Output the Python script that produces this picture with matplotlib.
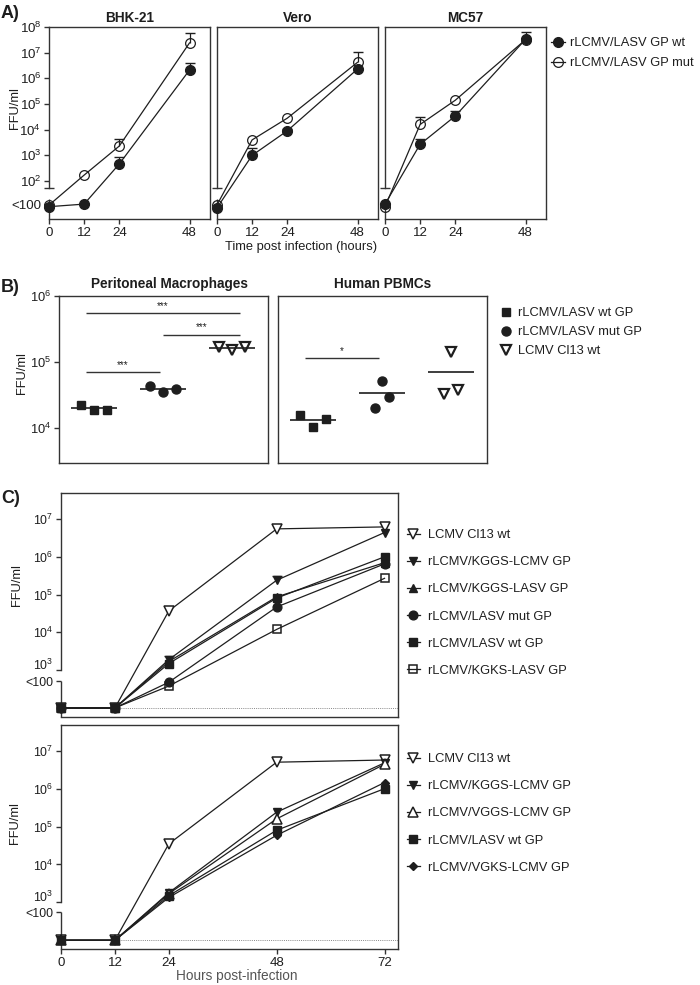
import numpy as np
import matplotlib
matplotlib.use('Agg')
import matplotlib.pyplot as plt
from matplotlib.lines import Line2D

plt.rcParams['font.family'] = ['Liberation Sans', 'DejaVu Sans']
plt.rcParams['mathtext.fontset'] = 'custom'
plt.rcParams['mathtext.rm'] = 'Liberation Sans'
plt.rcParams['mathtext.it'] = 'Liberation Sans:italic'
plt.rcParams['mathtext.bf'] = 'Liberation Sans:bold'

nan = np.nan
INK = '#1e1e1e'
SPINE = '#333333'
FS = 9.3

# ---------------- Panel A data ----------------
hours_A = [0, 12, 24, 48]
cells_A = ['BHK-21', 'Vero', 'MC57']
labels_A = ['rLCMV/LASV GP wt', 'rLCMV/LASV GP mut']
bhk_wt = [10, 12.6, 460, 2.1e6]
bhk_mut = [11.5, 170, 2300, 2.4e7]
vero_wt = [9, 1000, 9000, 2.3e6]
vero_mut = [11.7, 4000, 2.8e4, 4.2e6]
mc57_wt = [12.6, 2700, 3.4e4, 3.3e7]
mc57_mut = [10, 1.6e4, 1.4e5, 3.2e7]
# upper ends of the error bars (nan = none visible)
bhk_wt_hi = [nan, nan, 870, 4.0e6]
bhk_mut_hi = [nan, nan, 4400, 5.9e7]
vero_wt_hi = [nan, 1900, 1.1e4, nan]
vero_mut_hi = [nan, nan, nan, 1.1e7]
mc57_wt_hi = [nan, 4400, 5.4e4, 6.3e7]
mc57_mut_hi = [nan, 3.1e4, nan, nan]

# ---------------- Panel B data ----------------
groups_B = ['rLCMV/LASV wt GP', 'rLCMV/LASV mut GP', 'LCMV Cl13 wt']
titles_B = ['Peritoneal Macrophages', 'Human PBMCs']
mac_wt = [2.2e4, 1.87e4, 1.87e4]
mac_mut = [4.4e4, 3.5e4, 3.9e4]
mac_cl13 = [1.7e5, 1.5e5, 1.7e5]
pbmc_wt = [1.58e4, 1.05e4, 1.38e4]
pbmc_mut = [2.0e4, 5.2e4, 2.95e4]
pbmc_cl13 = [3.3e4, 1.4e5, 3.8e4]
sig_mac = [(1, 3, 5.5e5, '***'), (2, 3, 2.6e5, '***'), (1, 2, 7.0e4, '***')]
sig_pbmc = [(1, 2, 1.15e5, '*')]

# ---------------- Panel C data ----------------
hours_C = [0, 12, 24, 48, 72]
labels_C1 = ['LCMV Cl13 wt', 'rLCMV/KGGS-LCMV GP', 'rLCMV/KGGS-LASV GP',
             'rLCMV/LASV mut GP', 'rLCMV/LASV wt GP', 'rLCMV/KGKS-LASV GP']
c1_cl13 = [100, 100, 3.7e4, 5.5e6, 6.2e6]
c1_kggs_lcmv = [100, 100, 1.9e3, 2.4e5, 4.4e6]
c1_kggs_lasv = [100, 100, 1.7e3, 8.7e4, 7.0e5]
c1_lasv_mut = [100, 100, 480, 4.7e4, 6.5e5]
c1_lasv_wt = [100, 100, 1.5e3, 8.1e4, 1.0e6]
c1_kgks_lasv = [100, 100, 380, 1.2e4, 2.7e5]
c1_kggs_lcmv_hi = [nan, nan, 2.4e3, 3.2e5, nan]

labels_C2 = ['LCMV Cl13 wt', 'rLCMV/KGGS-LCMV GP', 'rLCMV/VGGS-LCMV GP',
             'rLCMV/LASV wt GP', 'rLCMV/VGKS-LCMV GP']
c2_cl13 = [100, 100, 3.5e4, 5.0e6, 5.7e6]
c2_kggs_lcmv = [100, 100, 1.8e3, 2.4e5, 4.8e6]
c2_vggs_lcmv = [100, 100, 1.7e3, 1.6e5, 4.4e6]
c2_lasv_wt = [100, 100, 1.5e3, 8.0e4, 1.0e6]
c2_vgks_lcmv = [100, 100, 1.35e3, 5.9e4, 1.45e6]

W, H = 700, 985
fig = plt.figure(figsize=(W / 100, H / 100), dpi=100)


def axbox(l, r, t, b):
    return fig.add_axes([l / W, 1 - b / H, (r - l) / W, (b - t) / H])


def style(ax, fs):
    for s in ax.spines.values():
        s.set_color(SPINE)
        s.set_linewidth(1.0)
    ax.tick_params(axis='both', which='major', direction='out', length=3.5,
                   width=1.0, color=SPINE, labelsize=fs, pad=2,
                   labelcolor=INK)
    ax.tick_params(axis='both', which='minor', left=False, bottom=False,
                   right=False, top=False)


def decade_labels(lo, hi):
    return [10.0 ** k for k in range(lo, hi + 1)], \
           [r'$\mathregular{10^{%d}}$' % k for k in range(lo, hi + 1)]


def lower_segment(ax, y0, y1):
    ax.plot([0, 0], [y0, y1], transform=ax.get_yaxis_transform(),
            color=SPINE, lw=1.0, clip_on=False, solid_capstyle='butt',
            zorder=2.5)


def spine_cap(ax, y):
    ax.plot([0], [y], transform=ax.get_yaxis_transform(), marker='_',
            ms=7, mew=1.0, color=SPINE, clip_on=False, zorder=2.5)


def upper_bars(ax, x, y, hi, z=2):
    x = np.asarray(x, float)
    y = np.asarray(y, float)
    hi = np.asarray(hi, float)
    m = ~np.isnan(hi)
    ax.vlines(x[m], y[m], hi[m], color=INK, lw=0.9, zorder=z, clip_on=False)
    ax.plot(x[m], hi[m], ls='none', marker='_', ms=7, mew=1.0, color=INK,
            zorder=z, clip_on=False)


def fig_text(x, y, s, **kw):
    return fig.text(x / W, 1 - y / H, s, **kw)


# ================= Panel A =================
A_series = [(bhk_wt, bhk_mut, bhk_wt_hi, bhk_mut_hi),
            (vero_wt, vero_mut, vero_wt_hi, vero_mut_hi),
            (mc57_wt, mc57_mut, mc57_wt_hi, mc57_mut_hi)]
A_pos = [(49, 210), (217, 378), (385, 546)]
for i, (cell, (wt, mut, wt_hi, mut_hi), (l, r)) in enumerate(
        zip(cells_A, A_series, A_pos)):
    ax = axbox(l, r, 27, 219)
    ax.set_yscale('log')
    style(ax, FS + 0.3)
    upper_bars(ax, hours_A, mut, mut_hi, z=2)
    upper_bars(ax, hours_A, wt, wt_hi, z=2)
    ax.plot(hours_A, mut, '-o', color=INK, lw=0.9, mfc='none', mec=INK,
            mew=0.9, ms=7, zorder=3, clip_on=False)
    ax.plot(hours_A, wt, '-o', color=INK, lw=0.9, mfc=INK, mec=INK,
            ms=7, zorder=4, clip_on=False)
    ax.set_xlim(0, 55)
    ax.set_ylim(10 ** 0.52, 1e8)
    ax.set_xticks(hours_A)
    ax.spines['left'].set_bounds(10 ** 1.73, 1e8)
    spine_cap(ax, 10 ** 1.73)
    lower_segment(ax, 10 ** 0.52, 10 ** 1.28)
    ax.set_title(cell, fontsize=FS + 0.5, fontweight='bold', pad=3.5,
                 color=INK)
    if i == 0:
        t, lab = decade_labels(2, 8)
        ax.set_yticks([10 ** 1.1] + t)
        ax.set_yticklabels(['<100'] + lab)
    else:
        ax.set_yticks([])
        ax.tick_params(axis='y', left=False, labelleft=False)

fig_text(15, 108, 'FFU/ml', rotation=90, ha='center', va='center',
         fontsize=FS, color=INK)
fig_text(301, 247, 'Time post infection (hours)', ha='center', va='center',
         fontsize=FS, color=INK)
hA = [Line2D([], [], color=INK, lw=0.9, marker='o', mfc=INK, mec=INK, ms=7),
      Line2D([], [], color=INK, lw=0.9, marker='o', mfc='none', mec=INK,
             mew=0.9, ms=7)]
fig.legend(hA, labels_A, loc='upper left', bbox_to_anchor=(551 / W, 1 - 37 / H),
           frameon=False, fontsize=FS, borderpad=0, borderaxespad=0,
           handlelength=1.05, handletextpad=0.45, labelspacing=0.62,
           numpoints=1, labelcolor=INK)

# ================= Panel B =================
offs_wide = np.array([-0.19, 0.0, 0.19])
offs_narrow = np.array([-0.1, 0.0, 0.1])
B_data = [(mac_wt, mac_mut, mac_cl13), (pbmc_wt, pbmc_mut, pbmc_cl13)]
B_offs = [(offs_wide, offs_wide, offs_wide), (offs_wide, offs_narrow, offs_narrow)]
B_sig = [sig_mac, sig_pbmc]
B_pos = [(59, 268), (278, 487)]
B_title_x = [0.53, 0.5]
mk_B = [dict(marker='s', mfc=INK, mec=INK, ms=6),
        dict(marker='o', mfc=INK, mec=INK, ms=6.5),
        dict(marker='v', mfc='white', mec=INK, ms=7, mew=1.6)]
for j, (vals, offs, sigs, (l, r), title) in enumerate(
        zip(B_data, B_offs, B_sig, B_pos, titles_B)):
    ax = axbox(l, r, 296, 463)
    ax.set_yscale('log')
    style(ax, FS)
    for g, (v, o, mk) in enumerate(zip(vals, offs, mk_B)):
        xg = g + 1
        ax.plot(xg + o, v, ls='none', zorder=3, **mk)
        ax.hlines(np.mean(v), xg - 0.33, xg + 0.33, color=INK, lw=1.2, zorder=4)
    for (g1, g2, yv, s) in sigs:
        x1 = g1 - 0.12 if g1 == 1 else g1
        x2 = g2 + 0.11 if g2 == 3 else g2 - 0.05
        ax.hlines(yv, x1, x2, color=SPINE, lw=1.0)
        ax.annotate(s, ((x1 + x2) / 2, yv), xytext=(0, 1.5),
                    textcoords='offset points', ha='center', va='bottom',
                    fontsize=7, color=INK)
    ax.set_xlim(0.49, 3.52)
    ax.set_ylim(10 ** 3.47, 1e6)
    ax.set_xticks([])
    ax.set_title(title, fontsize=FS + 0.5, fontweight='bold', pad=5.5,
                 color=INK, x=B_title_x[j])
    if j == 0:
        t, lab = decade_labels(4, 6)
        ax.set_yticks(t)
        ax.set_yticklabels(lab)
    else:
        ax.set_yticks([])
        ax.tick_params(axis='y', left=False, labelleft=False)

fig_text(22, 373, 'FFU/ml', rotation=90, ha='center', va='center',
         fontsize=FS, color=INK)
hB = [Line2D([], [], ls='none', **mk) for mk in mk_B]
fig.legend(hB, groups_B, loc='upper left', bbox_to_anchor=(501 / W, 1 - 307 / H),
           frameon=False, fontsize=FS, borderpad=0, borderaxespad=0,
           handlelength=0.8, handletextpad=0.5, labelspacing=0.54,
           numpoints=1, labelcolor=INK)

# ================= Panel C =================
mk_C1 = [dict(marker='v', mfc='white', ms=6.8, mew=1.1),
         dict(marker='v', mfc=INK, ms=6.3),
         dict(marker='^', mfc=INK, ms=6.3),
         dict(marker='o', mfc=INK, ms=6.3),
         dict(marker='s', mfc=INK, ms=6.0),
         dict(marker='s', mfc='none', ms=6.3, mew=1.1)]
mk_C2 = [dict(marker='v', mfc='white', ms=6.8, mew=1.1),
         dict(marker='v', mfc=INK, ms=6.3),
         dict(marker='^', mfc='white', ms=6.8, mew=1.1),
         dict(marker='s', mfc=INK, ms=6.0),
         dict(marker='D', mfc=INK, ms=4.5)]
C1 = [c1_cl13, c1_kggs_lcmv, c1_kggs_lasv, c1_lasv_mut, c1_lasv_wt, c1_kgks_lasv]
C2 = [c2_cl13, c2_kggs_lcmv, c2_vggs_lcmv, c2_lasv_wt, c2_vgks_lcmv]

for k, (series, mks, labels, (t, b), lowtick, ylo, yhi) in enumerate([
        (C1, mk_C1, labels_C1, (493, 717), 10 ** 2.71, 10 ** 1.76, 10 ** 7.69),
        (C2, mk_C2, labels_C2, (725, 949), 10 ** 2.74, 10 ** 1.77, 10 ** 7.68)]):
    ax = axbox(61, 398, t, b)
    ax.set_yscale('log')
    style(ax, 8.9)
    ax.tick_params(axis='x', labelsize=FS + 0.2)
    ax.axhline(100, ls=(0, (1, 1.2)), lw=0.7, color='#888888', zorder=1)
    if k == 0:
        upper_bars(ax, hours_C, c1_kggs_lcmv, c1_kggs_lcmv_hi, z=2)
    for n in range(len(series) - 1, -1, -1):
        ax.plot(hours_C, series[n], '-', color=INK, lw=0.9, mec=INK,
                zorder=3 + n * 0.01, clip_on=False, **mks[n])
    ax.set_xlim(0, 75)
    ax.set_ylim(ylo, yhi)
    ax.spines['left'].set_bounds(1e3, yhi)
    lower_segment(ax, ylo, lowtick)
    tks, lab = decade_labels(3, 7)
    ax.set_yticks([lowtick] + tks)
    ax.set_yticklabels(['<100'] + lab)
    ylabs = ax.get_yticklabels()
    ylabs[1].set_verticalalignment('baseline')
    ylabs[0].set_verticalalignment('center_baseline')
    if k == 0:
        ax.set_xticks([])
    else:
        ax.set_xticks(hours_C)
    handles = [Line2D([], [], color=INK, lw=0.9, mec=INK, **m) for m in mks]
    y_first = 533 if k == 0 else 757
    fig.legend(handles, labels, loc='upper left',
               bbox_to_anchor=(407 / W, 1 - (y_first - 4) / H),
               frameon=False, fontsize=FS, borderpad=0, borderaxespad=0,
               handlelength=1.0, handletextpad=0.65, labelspacing=1.17,
               numpoints=1, labelcolor=INK)

fig_text(17, 585, 'FFU/ml', rotation=90, ha='center', va='center',
         fontsize=FS, color=INK)
fig_text(15, 823, 'FFU/ml', rotation=90, ha='center', va='center',
         fontsize=FS, color=INK)
fig_text(237, 976, 'Hours post-infection', ha='center', va='center',
         fontsize=FS + 0.5, color='#555555')

# panel letters
for s, y in [('A)', 13), ('B)', 287), ('C)', 498)]:
    fig_text(1, y, s, ha='left', va='center', fontsize=13, fontweight='bold',
             color=INK)

fig.savefig('out.png', dpi=100)
